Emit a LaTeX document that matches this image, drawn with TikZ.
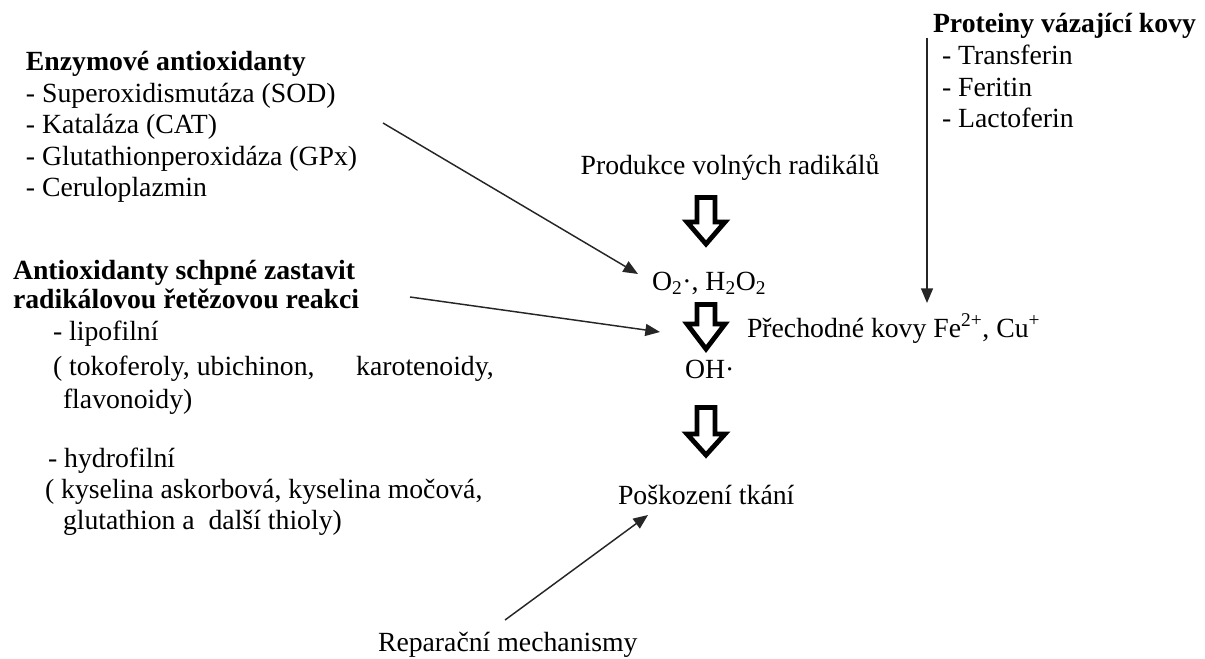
\documentclass[tikz,border=0pt]{standalone}
\usepackage{fontspec}
\setmainfont{Liberation Serif}
\usetikzlibrary{arrows.meta}
\begin{document}
\begin{tikzpicture}[x=0.75pt,y=-0.75pt,
  txt/.style={inner sep=0pt,outer sep=0pt,anchor=base west,font=\fontsize{20.8}{24}\selectfont},
  hd/.style={txt,font=\fontsize{20.8}{24}\selectfont\bfseries},
  conn/.style={line width=1.1pt,draw=black!85,-{Triangle[length=11pt,width=9pt]}},
  hollow/.style={line width=3.6pt,miter limit=10,draw=black,fill=white}]
\useasboundingbox (0,0) rectangle (1205,659);
% left block 1
\node[hd] (enz) at (26,71) {Enzymové antioxidanty};
\node[txt] (sod) at (26,102.5) {- Superoxidismutáza (SOD)};
\node[txt] (cat) at (26,134) {- Kataláza (CAT)};
\node[txt] (gpx) at (26,165.5) {- Glutathionperoxidáza (GPx)};
\node[txt] (cer) at (26,197) {- Ceruloplazmin};
% right block
\node[hd] (prot) at (933,33) {Proteiny vázající kovy};
\node[txt] (tra) at (942,65) {- Transferin};
\node[txt] (fer) at (942,96.5) {- Feritin};
\node[txt] (lac) at (942,128) {- Lactoferin};
% center chain
\node[txt,anchor=base] (prod) at (730,175) {Produkce volných radikálů};
\node[txt] (o2) at (652,290) {O\textsubscript{2}·, H\textsubscript{2}O\textsubscript{2}};
\node[txt] (oh) at (685,378) {OH·};
\node[txt] (kovy) at (747,337) {Přechodné kovy Fe\textsuperscript{2+}, Cu\textsuperscript{+}};
\node[txt] (posk) at (618,504) {Poškození tkání};
% left block 2
\node[hd] (anti1) at (13,279) {Antioxidanty schpné zastavit};
\node[hd] (anti2) at (13,308) {radikálovou řetězovou reakci};
\node[txt] (lipo) at (53,340) {- lipofilní};
\node[txt] (lipo1) at (53,375) {( tokoferoly, ubichinon,\hspace{1.5em}karotenoidy,};
\node[txt] (lipo2) at (63,408) {flavonoidy)};
\node[txt] (hydro) at (48,467) {- hydrofilní};
\node[txt] (hydro1) at (45,498) {( kyselina askorbová, kyselina močová,};
\node[txt] (hydro2) at (63,529) {glutathion a\ \ další thioly)};
\node[txt] (rep) at (378,651) {Reparační mechanismy};
% connectors
\coordinate (a1s) at (383,123); \coordinate (a1e) at (638,274);
\draw[conn] (a1s) -- (a1e);
\coordinate (a2s) at (410,297); \coordinate (a2e) at (660,332);
\draw[conn] (a2s) -- (a2e);
\coordinate (a3s) at (927,38); \coordinate (a3e) at (927,303);
\draw[conn] (a3s) -- (a3e);
\coordinate (a4s) at (505,620); \coordinate (a4e) at (648,515);
\draw[conn] (a4s) -- (a4e);
% hollow arrows
\foreach \y/\b/\t in {197.5/222/244, 304.5/324/349, 407.5/434/455}{
  \draw[hollow] (706-9,\y) -- (706+9,\y) -- (706+9,\b) -- (706+19,\b)
     -- (706,\t) -- (706-19,\b) -- (706-9,\b) -- cycle;
}
\end{tikzpicture}
\end{document}
